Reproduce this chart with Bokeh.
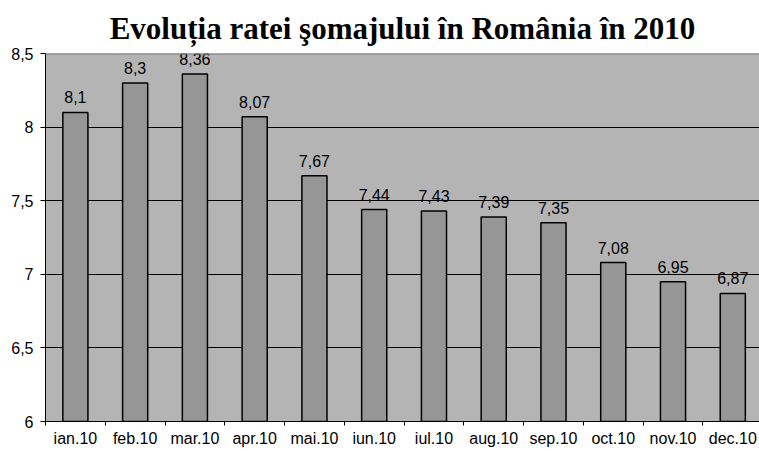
from bokeh.plotting import figure
from bokeh.models import ColumnDataSource, Range1d, FixedTicker, Span
from bokeh.core.properties import value
from bokeh.embed import file_html
from bokeh.resources import INLINE

months = ["ian.10", "feb.10", "mar.10", "apr.10", "mai.10", "iun.10",
          "iul.10", "aug.10", "sep.10", "oct.10", "nov.10", "dec.10"]
rates = [8.1, 8.3, 8.36, 8.07, 7.67, 7.44, 7.43, 7.39, 7.35, 7.08, 6.95, 6.87]
rate_labels = ["8,1", "8,3", "8,36", "8,07", "7,67", "7,44", "7,43", "7,39",
               "7,35", "7,08", "6,95", "6,87"]
y_ticks = [6, 6.5, 7, 7.5, 8, 8.5]
y_tick_labels = ["6", "6,5", "7", "7,5", "8", "8,5"]
title_text = "Evoluția ratei şomajului în România în 2010"

xs = list(range(len(months)))
src = ColumnDataSource(dict(x=xs, top=rates, lab=rate_labels))

y_start, y_end = y_ticks[0], y_ticks[-1]

p = figure(width=759, height=451, output_backend="svg", toolbar_location=None,
           x_range=Range1d(-0.5, 11.447), y_range=Range1d(y_start, y_end),
           min_border_left=45, min_border_right=0, min_border_top=52,
           min_border_bottom=30, title=title_text)

p.background_fill_color = "#b4b4b4"
p.border_fill_color = "white"
p.outline_line_color = None

p.title.text_font = "Liberation Serif"
p.title.text_font_style = "bold"
p.title.text_font_size = "31px"
p.title.text_line_height = 1.0
p.title.align = "center"
p.title.text_color = "black"
p.title.standoff = 16

p.vbar(x="x", top="top", bottom=y_start, width=0.42, source=src,
       fill_color="#969696", line_color="black", line_width=1.5)

p.text(x="x", y="top", text="lab", source=src, text_align="center",
       text_baseline="bottom", y_offset=-9,
       text_font=value("Liberation Sans"), text_font_size="16px",
       text_color="black")

p.add_layout(Span(location=y_end, dimension="width", line_color="#7a7a7a",
                  line_width=2))

# y axis
p.yaxis.ticker = FixedTicker(ticks=y_ticks)
p.yaxis.major_label_overrides = {t: l for t, l in zip(y_ticks, y_tick_labels)}
p.yaxis.major_label_text_font = "Liberation Sans"
p.yaxis.major_label_text_font_size = "16px"
p.yaxis.major_label_text_color = "black"
p.yaxis.major_tick_in = 0
p.yaxis.major_tick_out = 5
p.yaxis.major_tick_line_color = "black"
p.yaxis.minor_tick_line_color = None
p.yaxis.axis_line_color = "black"
p.yaxis.major_label_standoff = 7

# x axis: labels at centres, tick marks at boundaries
p.xaxis.ticker = FixedTicker(ticks=xs, minor_ticks=[i - 0.5 for i in range(len(months) + 1)])
p.xaxis.major_label_overrides = {i: m for i, m in enumerate(months)}
p.xaxis.major_label_text_font = "Liberation Sans"
p.xaxis.major_label_text_font_size = "16px"
p.xaxis.major_label_text_color = "black"
p.xaxis.major_tick_line_color = None
p.xaxis.major_tick_in = 0
p.xaxis.major_tick_out = 4
p.xaxis.minor_tick_in = 0
p.xaxis.minor_tick_out = 4
p.xaxis.minor_tick_line_color = "black"
p.xaxis.axis_line_color = "black"
p.xaxis.major_label_standoff = 4

p.xgrid.grid_line_color = None
p.ygrid.ticker = FixedTicker(ticks=y_ticks[1:-1])
p.ygrid.grid_line_color = "black"
p.ygrid.grid_line_width = 1

open("out.html", "w").write(file_html(p, INLINE))
